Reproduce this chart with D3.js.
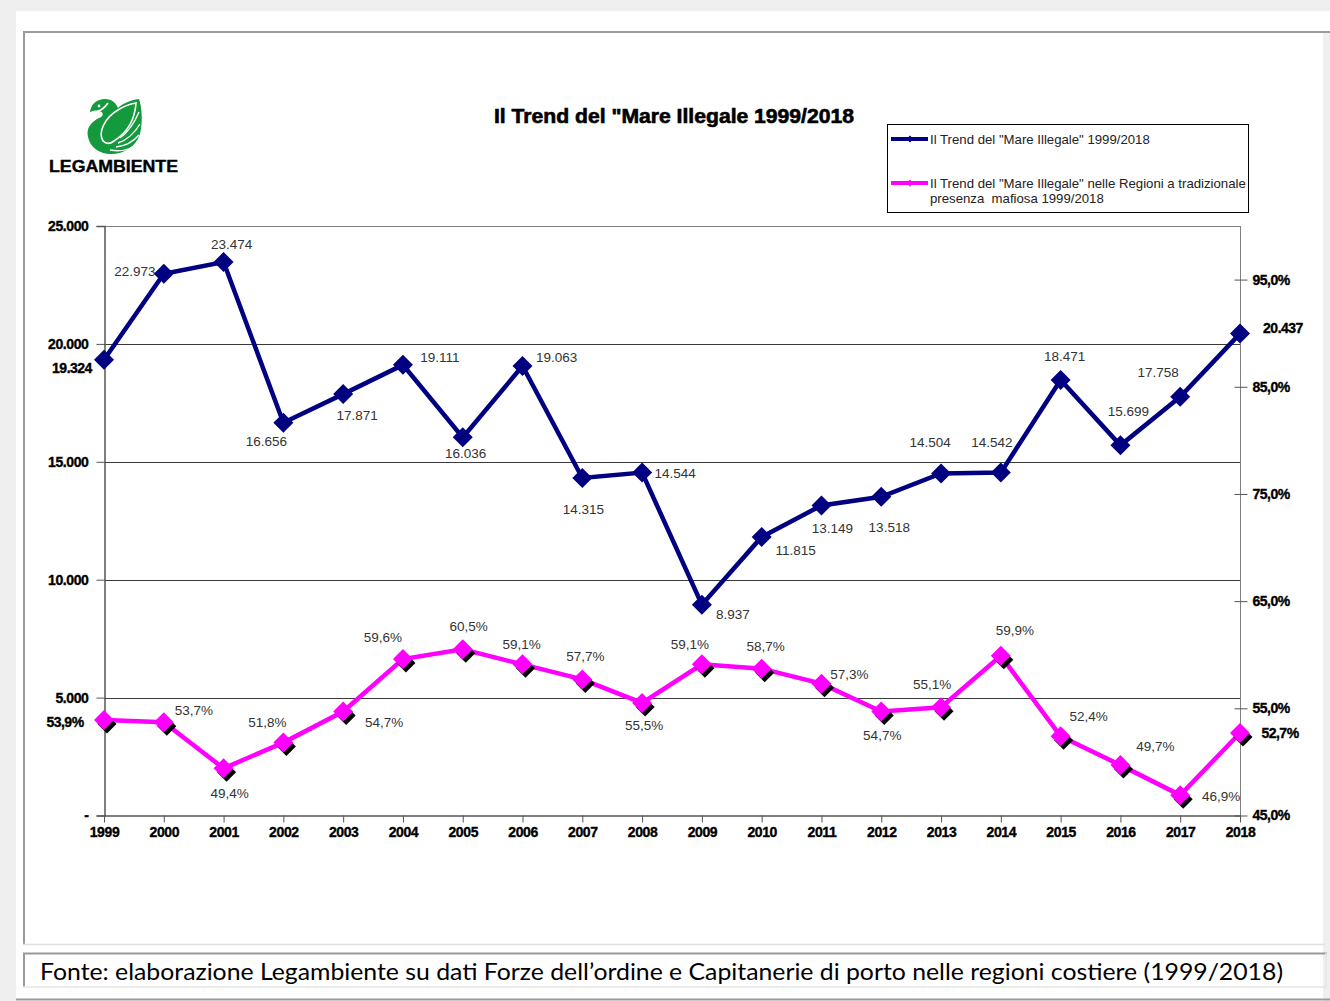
<!DOCTYPE html>
<html><head><meta charset="utf-8">
<script src="https://cdn.jsdelivr.net/npm/d3@7"></script>
<style>
html,body{margin:0;padding:0;background:#fff;}
svg{display:block;font-family:"Liberation Sans",Arial,sans-serif;}
</style></head><body>
<svg id="chart" width="1330" height="1001"></svg>
<script>
// ---------- DATA ----------
const years = ["1999","2000","2001","2002","2003","2004","2005","2006","2007","2008","2009","2010","2011","2012","2013","2014","2015","2016","2017","2018"];
const seriesTotal = [19324,22973,23474,16656,17871,19111,16036,19063,14315,14544,8937,11815,13149,13518,14504,14542,18471,15699,17758,20437];
const seriesMafia = [53.9,53.7,49.4,51.8,54.7,59.6,60.5,59.1,57.7,55.5,59.1,58.7,57.3,54.7,55.1,59.9,52.4,49.7,46.9,52.7];
const leftTicks = [0,5000,10000,15000,20000,25000];
const rightTicks = [45,55,65,75,85,95];
const legendLabels = ['Il Trend del "Mare Illegale" 1999/2018',
  'Il Trend del "Mare Illegale" nelle Regioni a tradizionale|presenza  mafiosa 1999/2018'];
const titleText = 'Il Trend del "Mare Illegale 1999/2018';
const footerText = "Fonte: elaborazione Legambiente su dati Forze dell\u2019ordine e Capitanerie di porto nelle regioni costiere (1999/2018)";

// label nudges (layout only): [dx, dy] from each point
const totalLabelNudge = [[-32,8],[-29,-2],[8,-17],[-17,19],[14,21],[37,-7],[3,16],[34,-8],[1,32],[33,1],[31,10],[34,14],[11,23],[8,31],[-11,-31],[-9,-30],[4,-23],[8,-34],[-22,-24],[43,-6]];
const mafiaLabelNudge = [[-39,2],[30,-12],[6,25],[-16,-20],[41,11],[-20,-22],[6,-23],[-1,-20],[3,-23],[2,23],[-12,-20],[4,-22],[28,-9],[1,24],[-9,-23],[14,-25],[28,-20],[35,-19],[41,1],[40,0]];

// ---------- SETUP ----------
const it = d3.formatLocale({decimal:",", thousands:".", grouping:[3], currency:["€",""]});
const fmtInt = it.format(",.0f");
const fmtPct = v => it.format(".1f")(v) + "%";

const svg = d3.select("#chart");
const NAVY = "#000080", MAG = "#ff00ff";

// page frame
svg.append("rect").attr("x",0).attr("y",0).attr("width",1330).attr("height",1001).attr("fill","#fff");
svg.append("rect").attr("x",0).attr("y",0).attr("width",1330).attr("height",11).attr("fill","#efefef");
svg.append("rect").attr("x",0).attr("y",0).attr("width",16).attr("height",1001).attr("fill","#efefef");
svg.append("rect").attr("x",1323).attr("y",33).attr("width",7).attr("height",968).attr("fill","#efefef");
// chart frame
svg.append("line").attr("x1",23).attr("x2",1330).attr("y1",32).attr("y2",32).attr("stroke","#9a9a9a").attr("stroke-width",2);
svg.append("line").attr("x1",24).attr("x2",24).attr("y1",31).attr("y2",945).attr("stroke","#9a9a9a").attr("stroke-width",2);
svg.append("line").attr("x1",23).attr("x2",1325).attr("y1",944.5).attr("y2",944.5).attr("stroke","#e0e0e0").attr("stroke-width",1.5);
// footer box
svg.append("line").attr("x1",23).attr("x2",1327).attr("y1",953.5).attr("y2",953.5).attr("stroke","#9a9a9a").attr("stroke-width",2);
svg.append("line").attr("x1",24).attr("x2",24).attr("y1",953).attr("y2",987).attr("stroke","#9a9a9a").attr("stroke-width",2);
svg.append("line").attr("x1",23).attr("x2",1327).attr("y1",987).attr("y2",987).attr("stroke","#e6e6e6").attr("stroke-width",1.5);
svg.append("line").attr("x1",1326).attr("x2",1326).attr("y1",953).attr("y2",987).attr("stroke","#e6e6e6").attr("stroke-width",1.5);
svg.append("line").attr("x1",16).attr("x2",1330).attr("y1",999.5).attr("y2",999.5).attr("stroke","#9a9a9a").attr("stroke-width",2);
svg.append("text").attr("x",40).attr("y",980).attr("font-family","Lato, 'Open Sans', sans-serif")
  .attr("font-size",23).attr("fill","#000").attr("textLength",1243).attr("lengthAdjust","spacingAndGlyphs").text(footerText);

// ---------- LOGO ----------
const logo = svg.append("g");
logo.append("path").attr("fill","#149a3c")
  .attr("d","M90 112 C91 104 97 99 105 99 C112 99 116 103 118 108 C122 104 130 100 139 99 C142 108 143 122 140 134 C136 147 124 154 111 154 C99 154 90 147 88 137 C86 128 91 122 99 118 C104 116 104 112 99 111 C96 110 93 111 90 112 Z");
logo.append("path").attr("fill","none").attr("stroke","#fff").attr("stroke-width",1.6)
  .attr("d","M103 141 C98 133 104 118 118 110 C124 106 130 104 136 103 C135 118 128 132 114 141 C110 144 106 144 103 141 Z");
logo.append("path").attr("fill","none").attr("stroke","#fff").attr("stroke-width",1.4)
  .attr("d","M120 138 C128 132 134 124 139 112 M118 143 C127 140 134 134 140 124 M116 147 C126 146 133 142 139 135 M110 150 C120 152 128 150 134 146");
logo.append("path").attr("fill","none").attr("stroke","#fff").attr("stroke-width",1.6)
  .attr("d","M92 113 C100 112 104 109 108 103");
logo.append("circle").attr("cx",99).attr("cy",106).attr("r",1.4).attr("fill","#fff");
logo.append("text").attr("x",49).attr("y",172).attr("font-weight","bold").attr("font-size",17)
  .attr("stroke","#000").attr("stroke-width",0.4)
  .attr("textLength",129).attr("lengthAdjust","spacingAndGlyphs").attr("fill","#000").text("LEGAMBIENTE");

// ---------- TITLE ----------
svg.append("text").attr("x",494).attr("y",123).attr("font-weight","bold").attr("font-size",20)
  .attr("stroke","#000").attr("stroke-width",0.6)
  .attr("textLength",360).attr("lengthAdjust","spacingAndGlyphs").attr("fill","#000").text(titleText);

// ---------- SCALES ----------
const x = d3.scalePoint().domain(years).range([104,1240]);
const yL = d3.scaleLinear().domain([0,25000]).range([815.5,226]);
const yR = d3.scaleLinear().domain([45,100]).range([815.5,226]);

// gridlines
svg.append("g").selectAll("line").data(leftTicks.filter(t=>t>0 && t<25000)).join("line")
  .attr("x1",104).attr("x2",1240).attr("y1",d=>Math.round(yL(d))+0.5).attr("y2",d=>Math.round(yL(d))+0.5)
  .attr("stroke","#3a3a3a").attr("stroke-width",1);
// plot border top/right
svg.append("line").attr("x1",104).attr("x2",1240).attr("y1",226.5).attr("y2",226.5).attr("stroke","#808080");
svg.append("line").attr("x1",1240.5).attr("x2",1240.5).attr("y1",226).attr("y2",816).attr("stroke","#808080");

function styleTickText(sel, ls){
  sel.attr("font-family","'Liberation Sans',Arial,sans-serif").attr("font-size",14)
    .attr("font-weight","bold").attr("fill","#000").attr("stroke","#000").attr("stroke-width",0.35)
    .attr("letter-spacing",ls);
}

// left axis
const axL = d3.axisLeft(yL).tickValues(leftTicks).tickSize(8).tickPadding(8)
  .tickFormat(d => d===0 ? "-" : fmtInt(d));
const gL = svg.append("g").attr("transform","translate(104.5,0)").call(axL);
gL.select(".domain").attr("stroke","#555").attr("stroke-width",1.5);
gL.selectAll(".tick line").attr("stroke","#555");
styleTickText(gL.selectAll(".tick text"), "-0.4");

// bottom axis
const axB = d3.axisBottom(x).tickSize(7).tickPadding(5).tickSizeOuter(0);
const gB = svg.append("g").attr("transform","translate(0,815.5)").call(axB);
gB.select(".domain").attr("stroke","#555").attr("stroke-width",1.5);
gB.selectAll(".tick line").attr("stroke","#555");
styleTickText(gB.selectAll(".tick text"), "-0.4");

// right axis
const axR = d3.axisRight(yR).tickValues(rightTicks).tickSize(7).tickPadding(5).tickFormat(fmtPct);
const gR = svg.append("g").attr("transform","translate(1240.5,0)").call(axR);
gR.select(".domain").remove();
gR.selectAll(".tick line").attr("stroke","#555").attr("x1",-6);
styleTickText(gR.selectAll(".tick text"), "-0.5");

// ---------- SERIES ----------
const diamond = r => `M0,${-r}L${r},0L0,${r}L${-r},0Z`;

// total series
svg.append("path").datum(seriesTotal)
  .attr("d", d3.line().x((d,i)=>x(years[i])).y(d=>yL(d)))
  .attr("fill","none").attr("stroke",NAVY).attr("stroke-width",4.5).attr("stroke-linejoin","miter");
svg.append("g").selectAll("path").data(seriesTotal).join("path")
  .attr("transform",(d,i)=>`translate(${x(years[i])},${yL(d)})`).attr("d",diamond(10)).attr("fill",NAVY);

// mafia series
svg.append("path").datum(seriesMafia)
  .attr("d", d3.line().x((d,i)=>x(years[i])).y(d=>yR(d)))
  .attr("fill","none").attr("stroke",MAG).attr("stroke-width",4.5);
svg.append("g").selectAll("path").data(seriesMafia).join("path")
  .attr("transform",(d,i)=>`translate(${x(years[i])+3},${yR(d)+4})`).attr("d",diamond(9.5)).attr("fill","#000");
svg.append("g").selectAll("path").data(seriesMafia).join("path")
  .attr("transform",(d,i)=>`translate(${x(years[i])},${yR(d)})`).attr("d",diamond(10)).attr("fill",MAG);

// data labels
const last = years.length - 1;
const isEnd = i => i===0 || i===last;
function styleLabels(sel){
  sel.attr("text-anchor","middle").attr("dominant-baseline","central")
    .attr("font-size",(d,i)=> isEnd(i) ? 14 : 13.5)
    .attr("font-weight",(d,i)=> isEnd(i) ? "bold" : "normal")
    .attr("letter-spacing",(d,i)=> isEnd(i) ? "-0.5" : "0")
    .attr("stroke",(d,i)=> isEnd(i) ? "#000" : "none").attr("stroke-width",0.35)
    .attr("fill",(d,i)=> isEnd(i) ? "#000" : "#333");
}
svg.append("g").selectAll("text").data(seriesTotal).join("text")
  .attr("x",(d,i)=>x(years[i]) + totalLabelNudge[i][0])
  .attr("y",(d,i)=>yL(d) + totalLabelNudge[i][1])
  .call(styleLabels).text(d=>fmtInt(d));
svg.append("g").selectAll("text").data(seriesMafia).join("text")
  .attr("x",(d,i)=>x(years[i]) + mafiaLabelNudge[i][0])
  .attr("y",(d,i)=>yR(d) + mafiaLabelNudge[i][1])
  .call(styleLabels).text(d=>fmtPct(d));

// ---------- LEGEND ----------
const lg = svg.append("g");
lg.append("rect").attr("x",887.5).attr("y",124.5).attr("width",361).attr("height",88)
  .attr("fill","#fff").attr("stroke","#000").attr("stroke-width",1);
const legendColors = [NAVY, MAG];
const legendY = [139, 183];
legendLabels.forEach((lab,k)=>{
  lg.append("line").attr("x1",891).attr("x2",928).attr("y1",legendY[k]).attr("y2",legendY[k])
    .attr("stroke",legendColors[k]).attr("stroke-width",4);
  lg.append("path").attr("transform",`translate(910,${legendY[k]})`).attr("d",diamond(3.5)).attr("fill",legendColors[k]);
  lab.split("|").forEach((ln,j)=>{
    lg.append("text").attr("x",930).attr("y",legendY[k]+j*15).attr("dominant-baseline","central")
      .attr("font-size",13.2).attr("fill","#222").style("white-space","pre").attr("xml:space","preserve").text(ln);
  });
});
</script>
</body></html>
